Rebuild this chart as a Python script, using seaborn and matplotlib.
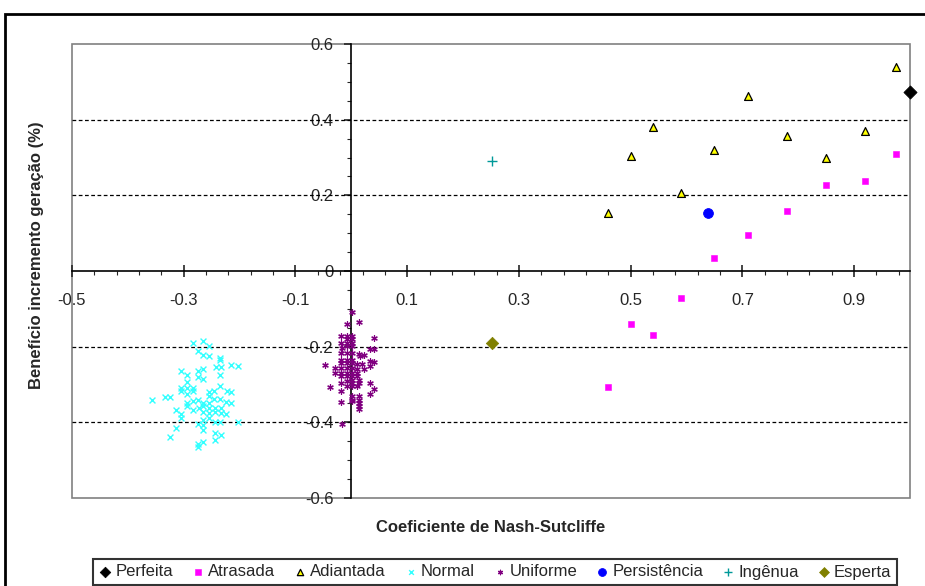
import pandas as pd
import matplotlib.pyplot as plt
import numpy as np
import seaborn as sns
from matplotlib.patches import Rectangle
from matplotlib.ticker import MultipleLocator, FixedLocator, FuncFormatter

# valores
perfeita_x = [1.0]
perfeita_y = [0.472]

atrasada_x = [0.46, 0.50, 0.54, 0.59, 0.65, 0.71, 0.78, 0.85, 0.92, 0.975]
atrasada_y = [-0.307, -0.139, -0.170, -0.072, 0.035, 0.094, 0.159, 0.226, 0.239, 0.309]

adiantada_x = [0.46, 0.50, 0.54, 0.59, 0.65, 0.71, 0.78, 0.85, 0.92, 0.975]
adiantada_y = [0.152, 0.304, 0.380, 0.207, 0.321, 0.463, 0.356, 0.299, 0.369, 0.539]

normal_x = [-0.284, -0.266, -0.254, -0.275, -0.266, -0.254, -0.235, -0.235, -0.215, -0.203,
            -0.242, -0.233, -0.266, -0.275, -0.304, -0.295, -0.235, -0.275, -0.266, -0.295,
            -0.235, -0.304, -0.295, -0.284, -0.245, -0.223, -0.254, -0.215, -0.304, -0.295,
            -0.283, -0.333, -0.325, -0.356, -0.254, -0.245, -0.235, -0.224, -0.215, -0.283,
            -0.274, -0.265, -0.254, -0.295, -0.295, -0.265, -0.254, -0.244, -0.233, -0.273,
            -0.284, -0.314, -0.265, -0.254, -0.244, -0.233, -0.224, -0.304, -0.304, -0.254,
            -0.265, -0.244, -0.235, -0.203, -0.275, -0.265, -0.314, -0.266, -0.244, -0.233,
            -0.325, -0.244, -0.266, -0.275, -0.275]
normal_y = [-0.190, -0.184, -0.197, -0.211, -0.222, -0.225, -0.229, -0.236, -0.249, -0.252,
            -0.255, -0.255, -0.258, -0.264, -0.265, -0.274, -0.276, -0.281, -0.285, -0.294,
            -0.303, -0.308, -0.308, -0.308, -0.317, -0.317, -0.321, -0.321, -0.318, -0.326,
            -0.317, -0.332, -0.332, -0.341, -0.330, -0.339, -0.339, -0.346, -0.348, -0.344,
            -0.341, -0.348, -0.348, -0.348, -0.357, -0.357, -0.361, -0.361, -0.361, -0.361,
            -0.368, -0.368, -0.373, -0.375, -0.373, -0.375, -0.377, -0.379, -0.388, -0.388,
            -0.393, -0.399, -0.399, -0.399, -0.404, -0.406, -0.414, -0.420, -0.427, -0.433,
            -0.438, -0.448, -0.451, -0.457, -0.465]

uniforme_x = [0.002, -0.007, 0.013, -0.018, -0.008, 0.001, -0.008, 0.001, -0.018, -0.008,
              0.001, 0.040, -0.008, 0.001, -0.017, 0.034, 0.041, -0.018, -0.008, 0.001,
              0.013, 0.022, 0.016, -0.018, -0.008, 0.001, 0.034, 0.040, -0.048, -0.018,
              -0.008, 0.001, 0.010, 0.019, 0.034, -0.029, -0.018, -0.008, 0.001, 0.010,
              0.022, -0.029, -0.018, -0.008, 0.001, 0.010, -0.018, -0.008, 0.001, 0.010,
              0.001, 0.013, -0.018, -0.008, 0.001, 0.013, 0.034, -0.038, -0.008, 0.001,
              0.010, 0.041, -0.018, 0.034, 0.001, 0.013, 0.001, 0.013, -0.018, 0.013,
              0.001, 0.013, 0.013, -0.017]
uniforme_y = [-0.108, -0.140, -0.135, -0.172, -0.172, -0.172, -0.181, -0.181, -0.190, -0.190,
              -0.190, -0.177, -0.199, -0.199, -0.203, -0.207, -0.207, -0.216, -0.216, -0.216,
              -0.219, -0.221, -0.225, -0.234, -0.234, -0.234, -0.238, -0.241, -0.248, -0.243,
              -0.243, -0.243, -0.247, -0.247, -0.252, -0.256, -0.256, -0.256, -0.256, -0.260,
              -0.260, -0.269, -0.269, -0.269, -0.269, -0.269, -0.278, -0.278, -0.278, -0.278,
              -0.287, -0.287, -0.296, -0.291, -0.296, -0.296, -0.296, -0.307, -0.305, -0.305,
              -0.305, -0.311, -0.318, -0.325, -0.331, -0.331, -0.340, -0.340, -0.346, -0.349,
              -0.344, -0.358, -0.366, -0.405]

persistencia_x = [0.638]
persistencia_y = [0.153]

ingenua_x = [0.252]
ingenua_y = [0.291]

esperta_x = [0.251]
esperta_y = [-0.191]

sns.set_style('white')
plt.rcParams['font.family'] = ['Liberation Sans', 'DejaVu Sans']
plt.rcParams['axes.unicode_minus'] = False

fig = plt.figure(figsize=(9.25, 5.86), dpi=100)
ax = fig.add_axes([72 / 925, 1 - 498 / 586, 838 / 925, 454 / 586])

series = [
    ('Perfeita', perfeita_x, perfeita_y, dict(marker='D', color='black', s=45, edgecolor='black')),
    ('Atrasada', atrasada_x, atrasada_y, dict(marker='s', color='#FF00FF', s=25, edgecolor='#FF00FF')),
    ('Adiantada', adiantada_x, adiantada_y, dict(marker='^', color='#FFFF00', s=32, edgecolor='black', linewidth=0.9)),
    ('Normal', normal_x, normal_y, dict(marker='x', color='#33FFFF', s=18, linewidth=1.0)),
    ('Uniforme', uniforme_x, uniforme_y, dict(marker=(6, 2, 0), color='#800080', s=16, linewidth=0.9)),
    ('Persistência', persistencia_x, persistencia_y, dict(marker='o', color='#0000FF', s=50, edgecolor='#0000FF')),
    ('Ingênua', ingenua_x, ingenua_y, dict(marker='+', color='#009999', s=60, linewidth=1.0)),
    ('Esperta', esperta_x, esperta_y, dict(marker='D', color='#808000', s=40, edgecolor='#808000')),
]
for name, xs, ys, style in series:
    df = pd.DataFrame({'x': xs, 'y': ys})
    sns.scatterplot(data=df, x='x', y='y', ax=ax, label=name, zorder=3, clip_on=False, **style)

ax.set_xlim(-0.5, 1.0)
ax.set_ylim(-0.6, 0.6)

for v in [-0.4, -0.2, 0.2, 0.4]:
    ax.axhline(v, color='black', lw=0.9, ls=(0, (3, 2)), zorder=1)

# eixos cruzando em zero
for side in ['top', 'right']:
    ax.spines[side].set_visible(False)
ax.spines['left'].set_position(('data', 0))
ax.spines['bottom'].set_position(('data', 0))
ax.spines['left'].set_color('black')
ax.spines['bottom'].set_color('black')
ax.spines['left'].set_linewidth(1.2)
ax.spines['bottom'].set_linewidth(1.2)
ax.add_patch(Rectangle((0, 0), 1, 1, transform=ax.transAxes, fill=False,
                       edgecolor='#808080', lw=1.2, clip_on=False, zorder=0))

ax.xaxis.set_major_locator(FixedLocator(np.round(np.arange(-0.5, 0.95, 0.2), 2)))
ax.xaxis.set_minor_locator(FixedLocator(np.round(np.arange(-0.5, 1.0, 0.04), 2)))
ax.yaxis.set_major_locator(MultipleLocator(0.2))
ax.yaxis.set_minor_locator(MultipleLocator(0.05))
fmt = FuncFormatter(lambda v, p: '0' if abs(v) < 1e-9 else f'{v:.1f}')
ax.xaxis.set_major_formatter(fmt)
ax.yaxis.set_major_formatter(fmt)
ax.tick_params(axis='x', which='major', direction='inout', length=8, width=1.2, pad=12, labelsize=12, bottom=True)
ax.tick_params(axis='x', which='minor', direction='out', length=3, width=0.8, bottom=True)
ax.tick_params(axis='y', which='major', direction='out', length=5, width=1.2, pad=8, labelsize=12, left=True)
ax.tick_params(axis='y', which='minor', direction='out', length=3, width=0.8, left=True)
ax.set_xlabel('')
ax.set_ylabel('')

ax.text(0.5, -0.066, 'Coeficiente de Nash-Sutcliffe', transform=ax.transAxes,
        ha='center', va='center', fontsize=12, fontweight='bold')
ax.text(-0.042, 0.535, 'Benefício incremento geração (%)', transform=ax.transAxes,
        ha='center', va='center', rotation=90, fontsize=12, fontweight='bold')

ax.legend_.remove()
handles, labels = ax.get_legend_handles_labels()
leg = fig.legend(handles, labels, loc='center', bbox_to_anchor=(495 / 925, 1 - 572 / 586),
                 ncol=8, fontsize=12, frameon=True, fancybox=False, handletextpad=0.2,
                 columnspacing=1.1, borderpad=0.35, handlelength=0.8, markerscale=0.8)
leg.get_frame().set_edgecolor('black')
leg.get_frame().set_linewidth(1.5)

fig.patches.append(Rectangle((5 / 925, -0.1), 1.2, 1 - 14 / 586 + 0.1, transform=fig.transFigure,
                             fill=False, edgecolor='black', lw=2, zorder=0))

plt.savefig('out.png', dpi=100)
plt.close()
